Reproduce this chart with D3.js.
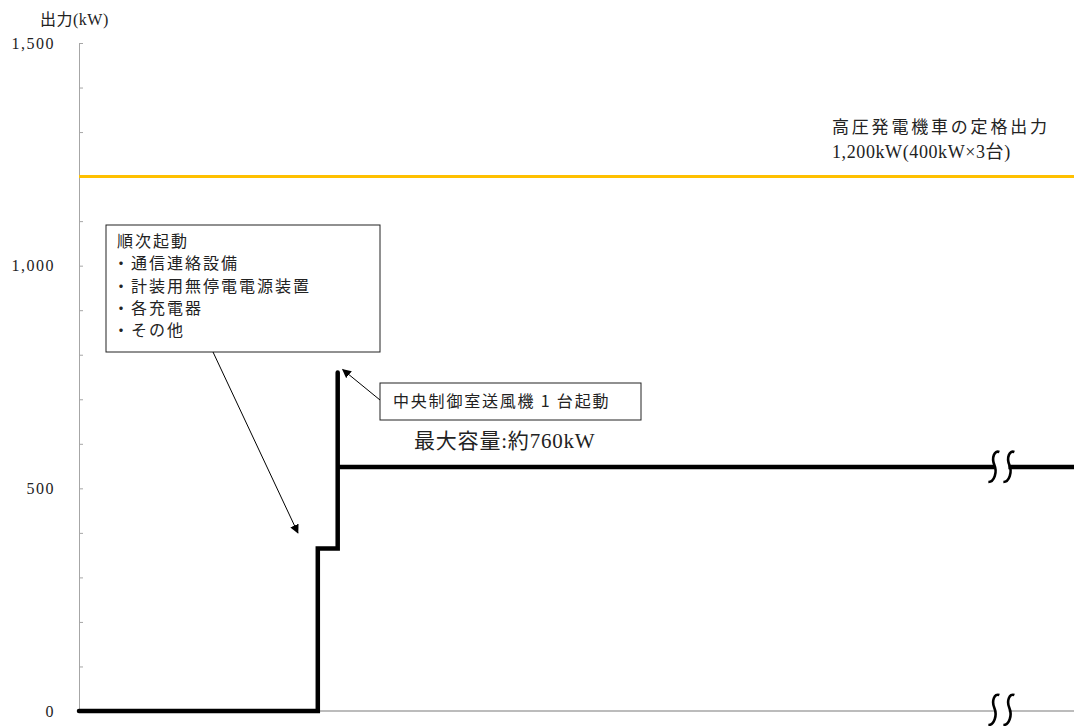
<!DOCTYPE html>
<html>
<head>
<meta charset="utf-8">
<script src="https://cdn.jsdelivr.net/npm/d3@7"></script>
<style>
  body { margin: 0; background: #fff; }
  svg { display: block; }
  .mincho { font-family: "Liberation Serif", "Noto Sans CJK JP", serif; fill: #222; }
  .gothic { font-family: "Noto Sans CJK JP", sans-serif; fill: #222; }
</style>
</head>
<body>
<div id="chart"></div>
<script>
// load profile (kW) of the power source car, step by step
var stepTime = [0, 24, 24, 26, 26];
var stepLoad = [0, 0, 365, 365, 760];
var steadyTime = [26, 100];
var steadyLoad = [548, 548];
var ratedOutput = 1200;
var yTicks = d3.range(0, 1501, 100);
var yLabels = [0, 500, 1000, 1500];
var breakAt = 92.6;

var boxLines = ["順次起動", "・通信連絡設備", "・計装用無停電電源装置", "・各充電器", "・その他"];

var svgWidth = 1074;
var svgHeight = 726;

var svg = d3.select("#chart")
  .append("svg")
  .attr("width", svgWidth)
  .attr("height", svgHeight);

var x = d3.scaleLinear().domain([0, 100]).range([79, 1074]);
var y = d3.scaleLinear().domain([0, 1500]).range([711, 43]);

// y axis, ticks pointing inside, labels only every 500
var yAxis = d3.axisLeft(y)
  .tickValues(yTicks)
  .tickSizeInner(-4)
  .tickSizeOuter(0)
  .tickPadding(24)
  .tickFormat(d => yLabels.indexOf(d) >= 0 ? d3.format(",")(d) : "");

var gy = svg.append("g")
  .attr("transform", `translate(${x(0)},0)`)
  .call(yAxis);
gy.select(".domain").attr("stroke", "#a6a6a6");
gy.selectAll(".tick line").attr("stroke", "#a6a6a6");
gy.selectAll(".tick text")
  .attr("class", "mincho")
  .attr("font-size", "16px")
  .attr("letter-spacing", "1.5px")
  .attr("fill", "#222");

svg.append("text")
  .attr("class", "mincho")
  .attr("x", 40)
  .attr("y", 25)
  .attr("font-size", "16px")
  .attr("letter-spacing", "0.5px")
  .text("出力(kW)");

// x axis line
svg.append("line")
  .attr("x1", x(0)).attr("x2", x(100))
  .attr("y1", y(0)).attr("y2", y(0))
  .attr("stroke", "#a6a6a6")
  .attr("stroke-width", 1.5);

// rated output line
svg.append("line")
  .attr("x1", x(0)).attr("x2", x(100))
  .attr("y1", y(ratedOutput)).attr("y2", y(ratedOutput))
  .attr("stroke", "#ffc000")
  .attr("stroke-width", 3);

svg.append("text")
  .attr("class", "mincho")
  .attr("x", 832).attr("y", 133)
  .attr("font-size", "17px")
  .attr("letter-spacing", "2.8px")
  .text("高圧発電機車の定格出力");
svg.append("text")
  .attr("class", "mincho")
  .attr("x", 832).attr("y", 158)
  .attr("font-size", "18px")
  .attr("letter-spacing", "0.6px")
  .text("1,200kW(400kW×3台)");

// load line
var line = d3.line().x(d => x(d[0])).y(d => y(d[1]));

svg.append("path")
  .datum(d3.zip(stepTime, stepLoad))
  .attr("d", line)
  .attr("fill", "none")
  .attr("stroke", "#000")
  .attr("stroke-width", 4.5)
  .attr("stroke-linecap", "round")
  .attr("stroke-linejoin", "miter");

svg.append("path")
  .datum(d3.zip(steadyTime, steadyLoad))
  .attr("d", line)
  .attr("fill", "none")
  .attr("stroke", "#000")
  .attr("stroke-width", 4.5);

// break marks
function breakMark(cx, cy) {
  svg.append("rect")
    .attr("x", cx - 6).attr("y", cy - 4)
    .attr("width", 14).attr("height", 8)
    .attr("fill", "#fff");
  [-7, 8].forEach(function(dx) {
    var bx = cx + dx;
    svg.append("path")
      .attr("d", `M${bx + 6},${cy - 15} C${bx + 1},${cy - 17} ${bx - 2},${cy - 9} ${bx + 1},${cy - 2}` +
                 ` S${bx + 1},${cy + 15} ${bx - 5},${cy + 15}`)
      .attr("fill", "none")
      .attr("stroke", "#000")
      .attr("stroke-width", 2.6);
  });
}
breakMark(x(breakAt), y(548));
breakMark(x(breakAt), y(0) - 1);

// arrow marker
svg.append("defs").append("marker")
  .attr("id", "arrow")
  .attr("viewBox", "0 0 10 10")
  .attr("refX", 9).attr("refY", 5)
  .attr("markerWidth", 9).attr("markerHeight", 9)
  .attr("markerUnits", "userSpaceOnUse")
  .attr("orient", "auto")
  .append("path")
  .attr("d", "M0,0 L10,5 L0,10 z")
  .attr("fill", "#000");

// annotation: sequential start box
svg.append("rect")
  .attr("x", 106).attr("y", 225)
  .attr("width", 274).attr("height", 127)
  .attr("fill", "#fff")
  .attr("stroke", "#222")
  .attr("stroke-width", 1);

svg.selectAll(".boxLine")
  .data(boxLines)
  .enter()
  .append("text")
  .attr("class", "gothic boxLine")
  .attr("x", (d, i) => i == 0 ? 117 : 113)
  .attr("y", (d, i) => 247 + i * 22.3)
  .attr("font-size", "16px")
  .attr("letter-spacing", "2px")
  .text(d => d);

svg.append("line")
  .attr("x1", 213).attr("y1", 352)
  .attr("x2", x(22)).attr("y2", y(400))
  .attr("stroke", "#000")
  .attr("stroke-width", 1)
  .attr("marker-end", "url(#arrow)");

// annotation: fan start box
svg.append("rect")
  .attr("x", 380).attr("y", 383)
  .attr("width", 261).attr("height", 37)
  .attr("fill", "#fff")
  .attr("stroke", "#222")
  .attr("stroke-width", 1);

svg.append("text")
  .attr("class", "gothic")
  .attr("x", 393).attr("y", 407)
  .attr("font-size", "16px")
  .attr("letter-spacing", "1.8px")
  .text("中央制御室送風機 1 台起動");

svg.append("line")
  .attr("x1", 380).attr("y1", 400)
  .attr("x2", x(26) + 5).attr("y2", y(760) - 3)
  .attr("stroke", "#000")
  .attr("stroke-width", 1)
  .attr("marker-end", "url(#arrow)");

svg.append("text")
  .attr("class", "mincho")
  .attr("x", 414).attr("y", 448)
  .attr("font-size", "21px")
  .attr("letter-spacing", "0.8px")
  .text("最大容量:約760kW");
</script>
</body>
</html>
